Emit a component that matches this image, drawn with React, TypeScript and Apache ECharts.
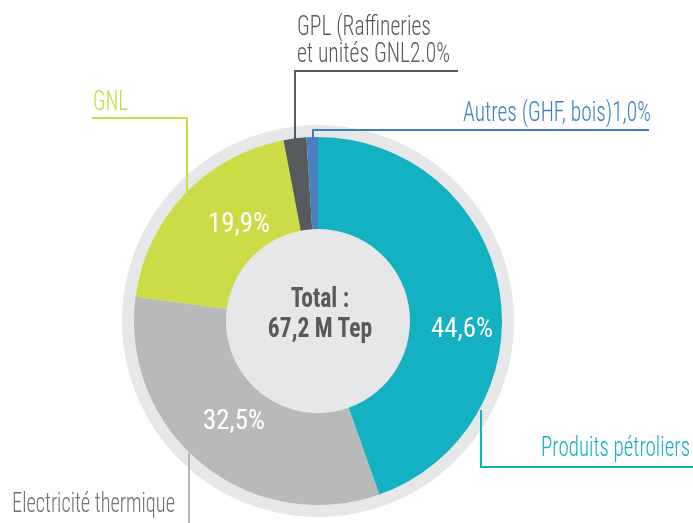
import React, { useEffect, useRef } from 'react';
import * as echarts from 'echarts';

const categories = ['Produits pétroliers', 'Electricité thermique', 'GNL', 'GPL (Raffineries et unités GNL)', 'Autres (GHF, bois)'];
const values = [44.6, 32.5, 19.9, 2.0, 1.0];
const outerLabels = ['Produits pétroliers', 'Electricité thermique', 'GNL', 'GPL (Raffineries\net unités GNL2.0%', 'Autres (GHF, bois)1,0%'];
const innerLabels = ['44,6%', '32,5%', '19,9%', '', ''];
const totalLabel = ['Total :', '67,2 M Tep'];

const colors = ['#14b1c3', '#b7b9ba', '#cddc46', '#575b5d', '#4b80c0'];
const textColors = ['#14b1c3', '#6f7072', '#c9d93e', '#58595b', '#3d7dc0'];
const lineColors = ['#14b1c3', '#b5b6b8', '#cddc46', '#58595b', '#3d7dc0'];

const CX = 318;
const CY = 321;
const FONT = "'Roboto Condensed', Roboto, sans-serif";

const innerPos: number[][] = [[462, 328], [234, 420], [239, 223], [0, 0], [0, 0]];
const outerLayout: any[] = [
  { x: 690, y: 447, align: 'right', pts: [[481, 410], [481, 467], [693, 467]] },
  { x: 12, y: 503, align: 'left', pts: [[189, 453], [189, 523], [189, 523]] },
  { x: 93, y: 101, align: 'left', pts: [[187, 192], [187, 118], [92, 118]] },
  { x: 297, y: 39, align: 'left', pts: [[295, 140], [295, 71], [458, 71]] },
  { x: 463, y: 112, align: 'left', pts: [[313, 140], [313, 130], [649, 130]] },
];
// target rendered widths (px) of the labels, per series / data index, to mimic the condensed face
const targetWidths: number[][] = [
  [105],
  [62, 62, 62, 0, 0],
  [149, 163, 35, 153, 188],
];

export default function App() {
  const ref = useRef<HTMLDivElement>(null);
  useEffect(() => {
    if (!ref.current) return;
    const chart = echarts.init(ref.current, undefined, { renderer: 'svg' });
    const option: any = {
      animation: false,
      series: [
        {
          type: 'pie',
          radius: [0, 196],
          center: [CX, CY],
          silent: true,
          z: 1,
          data: [{ value: 1, name: 'total', itemStyle: { color: '#e6e7e8' } }],
          label: {
            show: true,
            position: 'center',
            formatter: totalLabel.join('\n'),
            fontFamily: FONT,
            fontWeight: 'bold',
            fontSize: 28,
            lineHeight: 30,
            color: '#58595b',
          },
          labelLayout: () => ({ x: CX + 2, y: CY - 9, align: 'center', verticalAlign: 'middle' }),
          labelLine: { show: false },
          emphasis: { disabled: true },
        },
        {
          type: 'pie',
          radius: [92, 184],
          center: [CX, CY],
          startAngle: 90,
          clockwise: true,
          silent: true,
          z: 2,
          avoidLabelOverlap: false,
          data: categories.map((n, i) => ({ name: n, value: values[i], itemStyle: { color: colors[i] } })),
          label: {
            show: true,
            position: 'inside',
            formatter: (p: any) => innerLabels[p.dataIndex],
            color: '#ffffff',
            fontSize: 28,
            fontWeight: 400,
            fontFamily: FONT,
          },
          labelLayout: (p: any) => ({
            x: innerPos[p.dataIndex][0],
            y: innerPos[p.dataIndex][1],
            align: 'center',
            verticalAlign: 'middle',
          }),
          labelLine: { show: false },
          emphasis: { disabled: true },
        },
        {
          type: 'pie',
          radius: [92, 184],
          center: [CX, CY],
          startAngle: 90,
          clockwise: true,
          silent: true,
          z: 3,
          avoidLabelOverlap: false,
          itemStyle: { color: 'rgba(0,0,0,0)' },
          data: categories.map((n, i) => ({
            name: n,
            value: values[i],
            label: { color: textColors[i] },
            labelLine: { lineStyle: { color: lineColors[i] } },
          })),
          label: {
            show: true,
            position: 'outside',
            formatter: (p: any) => outerLabels[p.dataIndex],
            fontSize: 27,
            fontWeight: 300,
            lineHeight: 27,
            fontFamily: FONT,
          },
          labelLine: { show: true, lineStyle: { width: 2 } },
          labelLayout: (p: any) => {
            const l = outerLayout[p.dataIndex];
            return { x: l.x, y: l.y, align: l.align, verticalAlign: 'middle', labelLinePoints: l.pts };
          },
          emphasis: { disabled: true },
        },
      ],
    };
    chart.setOption(option);
    try {
      const model = (chart as any).getModel();
      model.eachSeries((s: any) => {
        const si = s.seriesIndex;
        const data = s.getData();
        data.each((idx: number) => {
          const el = data.getItemGraphicEl(idx);
          const t = el && el.getTextContent && el.getTextContent();
          const target = targetWidths[si] && targetWidths[si][idx];
          if (!t || !target) return;
          const w = t.getBoundingRect().width;
          if (w > 0) {
            t.scaleX = target / w;
            t.markRedraw();
          }
        });
      });
      chart.getZr().refreshImmediately();
    } catch (e) {
      // ignore
    }
    return () => chart.dispose();
  }, []);
  return <div ref={ref} style={{ position: 'fixed', left: 0, top: 0, width: 693, height: 523 }} />;
}
